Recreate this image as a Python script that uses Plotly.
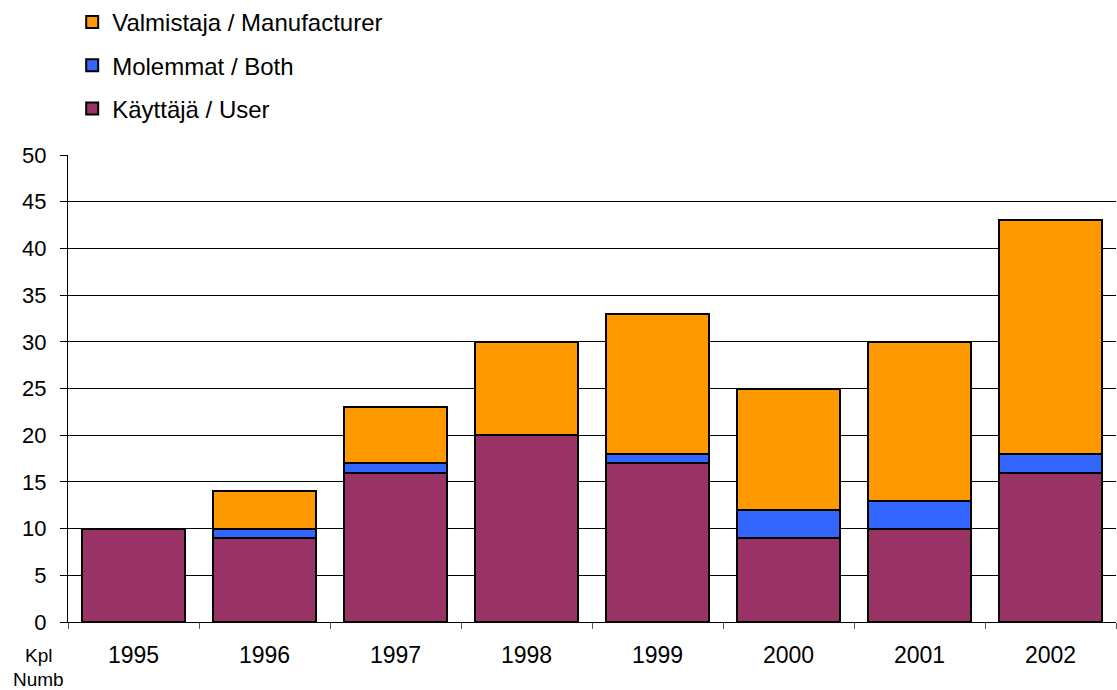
import plotly.graph_objects as go

years = ["1995", "1996", "1997", "1998", "1999", "2000", "2001", "2002"]
user = [10, 9, 16, 20, 17, 9, 10, 16]
both = [0, 1, 1, 0, 1, 3, 3, 2]
manufacturer = [0, 4, 6, 10, 15, 13, 17, 25]

names = ["Käyttäjä / User", "Molemmat / Both", "Valmistaja / Manufacturer"]
colors = ["#993366", "#3366FF", "#FF9900"]
series = [user, both, manufacturer]
ranks = [3, 2, 1]

FONT = "Arial, Liberation Sans, sans-serif"

fig = go.Figure()
for i, (n, c, s) in enumerate(zip(names, colors, series)):
    fig.add_trace(go.Bar(
        x=years, y=s, name=n, legendgroup=f"g{i}", legendrank=ranks[i],
        marker=dict(color=c, line=dict(color="black", width=2)),
    ))

fig.update_layout(
    barmode="stack",
    bargap=0.22,
    width=1117, height=690,
    margin=dict(l=68, r=1, t=155, b=68),
    paper_bgcolor="white", plot_bgcolor="white",
    font=dict(family=FONT, size=23, color="black"),
    showlegend=True,
    legend=dict(
        x=0.004, y=1.0, xref="paper", yref="container",
        xanchor="left", yanchor="top",
        traceorder="grouped", tracegroupgap=9,
        font=dict(size=24, family=FONT), bgcolor="rgba(0,0,0,0)",
        itemclick=False,
    ),
    xaxis=dict(
        type="category", showline=True, linecolor="black", linewidth=1,
        ticks="outside", tickson="boundaries", ticklen=6, tickcolor="#555",
        showgrid=False, ticklabelstandoff=12,
        tickfont=dict(size=23, family=FONT),
    ),
    yaxis=dict(
        range=[0, 50], tickmode="linear", tick0=0, dtick=5,
        showline=True, linecolor="black", linewidth=1,
        ticks="outside", ticklen=7, tickcolor="black",
        showgrid=True, gridcolor="black", gridwidth=1,
        zeroline=False, ticklabelstandoff=9,
        tickfont=dict(size=22, family=FONT),
    ),
)

for txt, yp in (("Kpl", -0.0707), ("Numb", -0.124)):
    fig.add_annotation(
        text=txt, xref="paper", yref="paper",
        x=-0.0286, y=yp, xanchor="center", yanchor="middle",
        showarrow=False, font=dict(size=19, family=FONT),
    )

fig.write_html("out.html")
